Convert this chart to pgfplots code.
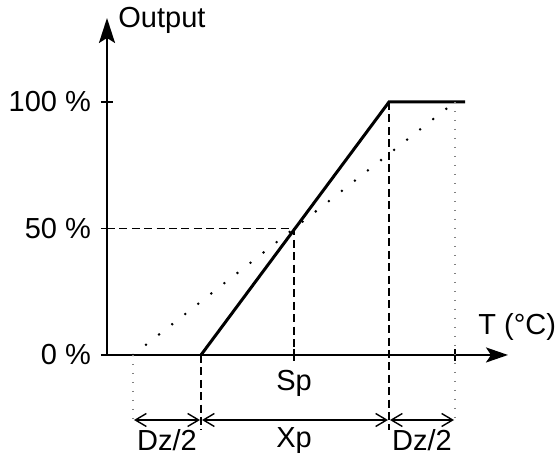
\documentclass[border=0pt]{standalone}
\usepackage{pgfplots}
\pgfplotsset{compat=1.18}
\usepackage{fontspec}
\setmainfont{Liberation Sans}
\usetikzlibrary{arrows.meta}
\begin{document}
\begin{tikzpicture}[font=\fontsize{14.5}{17}\selectfont]
  \begin{axis}[
    x=0.5pt, y=1.265pt,
    xmin=0, xmax=401, ymin=0, ymax=133.2,
    axis lines=left,
    axis line style={line width=1.1pt},
    x axis line style={-{Stealth[length=11pt,width=7.5pt,inset=2.5pt]}},
    y axis line style={-{Stealth[length=12.5pt,width=8pt,inset=2.5pt]}},
    clip=false,
    tick align=center,
    major tick length=6pt,
    tick style={line width=0.7pt, black},
    ytick={0,50,100},
    yticklabels={0 \%,50 \%,100 \%},
    yticklabel style={xshift=-1.5pt},
    xtick={187,348},
    xticklabels={Sp,{}},
    xticklabel style={yshift=-1pt},
    /pgf/number format/assume math mode=true,
  ]
    % proportional band, solid
    \addplot[black, line width=1.5pt] coordinates {(94,0) (282,100) (358,100)};
    % with dead zone, dotted
    \addplot[black, line width=1.4pt, line cap=round, dash pattern=on 0pt off 8.3pt]
      coordinates {(26,0) (348,100)};
    % dashed guides
    \addplot[black, line width=0.8pt, dash pattern=on 4pt off 2.2pt]
      coordinates {(0,50) (187,50) (187,-2.8)};
    \addplot[black, line width=0.8pt, dash pattern=on 4pt off 2.2pt]
      coordinates {(94,0) (94,-29.6)};
    \addplot[black, line width=0.8pt, dash pattern=on 4pt off 2.2pt]
      coordinates {(282,100) (282,-29.6)};
    % dead zone limits, gray dotted
    \addplot[gray, line width=0.6pt, dash pattern=on 0.6pt off 3.9pt]
      coordinates {(26,0) (26,-27.7)};
    \addplot[gray, line width=0.6pt, dash pattern=on 0.6pt off 3.9pt]
      coordinates {(348,100) (348,-27.7)};
    % dimension arrows
    \addplot[black, line width=0.7pt, {Straight Barb[length=5.5pt,width=6.5pt]}-{Straight Barb[length=5.5pt,width=6.5pt]}]
      coordinates {(27,-25.7) (93,-25.7)};
    \addplot[black, line width=0.7pt, {Straight Barb[length=5.5pt,width=6.5pt]}-{Straight Barb[length=5.5pt,width=6.5pt]}]
      coordinates {(95,-25.7) (281,-25.7)};
    \addplot[black, line width=0.7pt, {Straight Barb[length=5.5pt,width=6.5pt]}-{Straight Barb[length=5.5pt,width=6.5pt]}]
      coordinates {(283,-25.7) (347,-25.7)};
    \node at (axis cs:60,-33.8) {Dz/2};
    \node at (axis cs:187,-33.8) {Xp};
    \node at (axis cs:315,-33.8) {Dz/2};
    \node[anchor=west, inner sep=0pt] at (axis cs:11,132.4) {Output};
    \node[anchor=west, inner sep=0pt] at (axis cs:371,11) {T (°C)};
    \coordinate (bl) at (axis cs:-107,-40.3);
    \coordinate (tr) at (axis cs:453,140.3);
  \end{axis}
  \pgfresetboundingbox
  \path[use as bounding box] (bl) rectangle (tr);
\end{tikzpicture}
\end{document}
